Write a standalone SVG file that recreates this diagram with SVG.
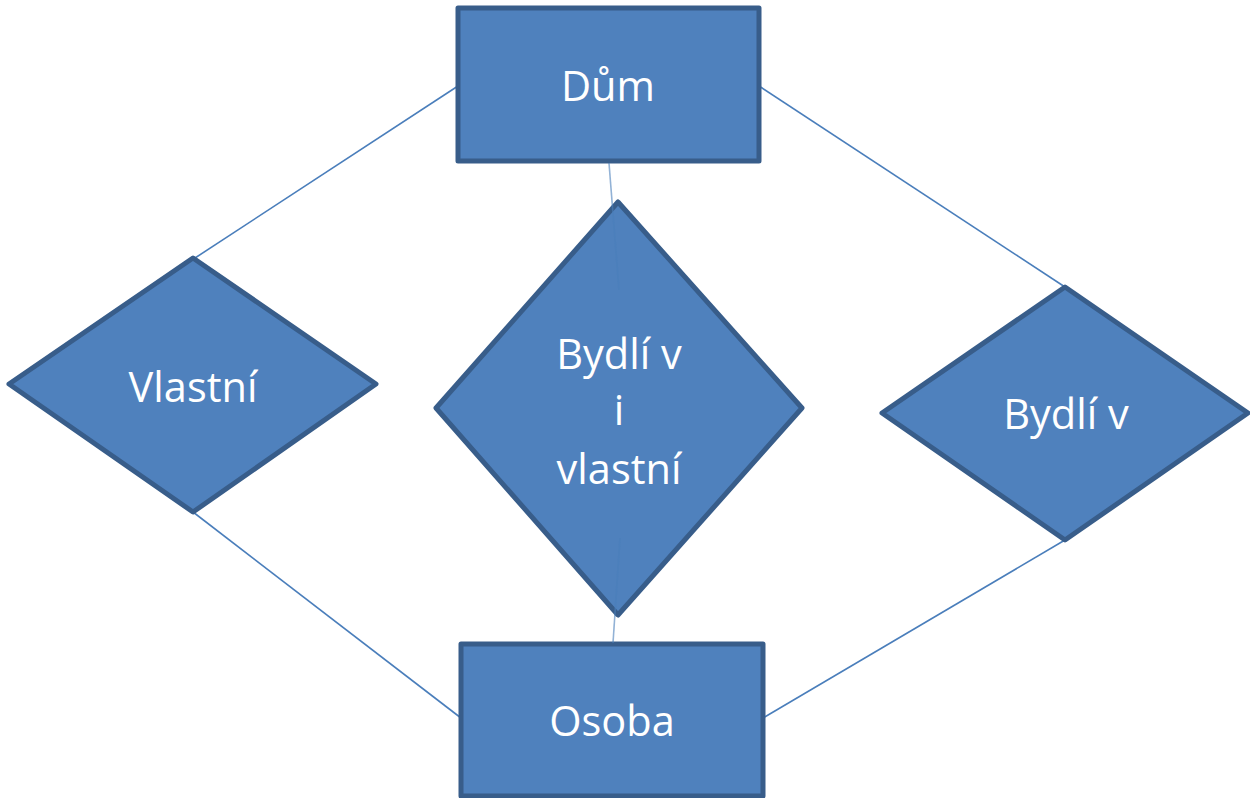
<svg xmlns="http://www.w3.org/2000/svg" width="1250" height="798" viewBox="0 0 1250 798">
<style>
.shape{fill:#4f81bd;stroke:#385d8a;stroke-width:5;stroke-linejoin:round}
.conn{stroke:#4a7ebb;stroke-width:1.6;fill:none}
.lbl{font-family:"Open Sans","Noto Sans","DejaVu Sans",sans-serif;font-size:41.5px;fill:#ffffff;text-anchor:middle}
</style>
<rect width="1250" height="798" fill="#ffffff"/>
<g id="connectors-under">
<line class="conn" x1="458" y1="86" x2="195" y2="258"/>
<line class="conn" x1="759" y1="86" x2="1065" y2="287"/>
<line class="conn" x1="193" y1="512" x2="461" y2="718"/>
<line class="conn" x1="1065" y1="540" x2="763" y2="718"/>
</g>
<g id="dum">
<rect class="shape" x="458" y="8" width="301" height="153"/>
<text class="lbl" x="608" y="101">Dům</text>
</g>
<g id="osoba">
<rect class="shape" x="461" y="644" width="302" height="152"/>
<text class="lbl" x="612" y="736">Osoba</text>
</g>
<g id="vlastni">
<polygon class="shape" points="9,384 193,258 376,384 193,512"/>
<text class="lbl" x="193" y="402">Vlastní</text>
</g>
<g id="bydli-v">
<polygon class="shape" points="882,413 1065,287 1248,413 1065,540"/>
<text class="lbl" x="1066" y="429">Bydlí v</text>
</g>
<g id="bydli-v-i-vlastni">
<polygon class="shape" points="436,408 618,202 802,408 618,615"/>
<text class="lbl" x="619" y="369">Bydlí v</text>
<text class="lbl" x="619" y="425">i</text>
<text class="lbl" x="619" y="484">vlastní</text>
</g>
<g id="connectors">
<line class="conn" x1="609" y1="163" x2="619" y2="290" stroke-opacity="0.6"/>
<line class="conn" x1="613" y1="643" x2="620" y2="538" stroke-opacity="0.6"/>
</g>
</svg>
